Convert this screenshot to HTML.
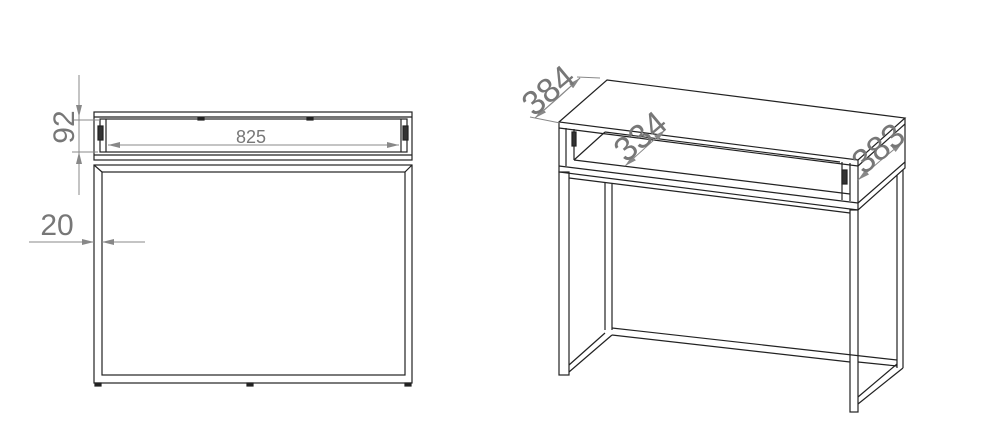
<!DOCTYPE html>
<html><head><meta charset="utf-8"><style>
html,body{margin:0;padding:0;background:#fff;}
svg{display:block;}
text{font-family:"Liberation Sans",sans-serif;fill:#777;}
</style></head><body>
<svg width="985" height="447" viewBox="0 0 985 447" xmlns="http://www.w3.org/2000/svg">
<defs>
<marker id="ar" markerWidth="12" markerHeight="6" refX="12" refY="3" orient="auto" markerUnits="userSpaceOnUse">
<path d="M0,0 L12,3 L0,6 Z" fill="#888"/></marker>
</defs>
<g fill="none" stroke="#222" stroke-width="1.2">
<!-- LEFT VIEW -->
<rect x="94" y="112" width="318" height="48"/>
<line x1="94" y1="117" x2="412" y2="117"/>
<rect x="100" y="119" width="307" height="33"/>
<line x1="106" y1="119" x2="106" y2="152"/>
<line x1="401" y1="119" x2="401" y2="152"/>
<line x1="94" y1="155" x2="412" y2="155"/>
<rect x="94" y="165" width="318" height="218"/>
<rect x="102" y="172" width="303" height="203"/>
<line x1="94" y1="165" x2="102" y2="172"/>
<line x1="412" y1="165" x2="405" y2="172"/>
<rect x="98" y="126" width="5" height="14" fill="#333"/>
<rect x="403" y="126" width="5" height="14" fill="#333"/>
<rect x="198" y="118" width="6" height="2" fill="#222"/>
<rect x="307" y="118" width="6" height="2" fill="#222"/>
<rect x="95" y="383" width="6" height="3" fill="#222"/>
<rect x="247" y="383" width="6" height="3" fill="#222"/>
<rect x="405" y="383" width="6" height="3" fill="#222"/>
<!-- RIGHT VIEW -->
<polygon points="607,80 905,118 858,160 559,122"/>
<polyline points="559,122 559,172 858,210 905,168 905,118"/>
<line x1="858" y1="160" x2="858" y2="210"/>
<line x1="559" y1="128" x2="858" y2="166"/>
<line x1="858" y1="166" x2="905" y2="124"/>
<line x1="559" y1="166" x2="858" y2="203"/>
<line x1="858" y1="203" x2="905" y2="162"/>
<line x1="566" y1="128" x2="566" y2="166"/>
<line x1="574" y1="129" x2="574" y2="160"/>
<line x1="574" y1="160" x2="850" y2="194"/>
<line x1="574" y1="160" x2="605" y2="132"/>
<line x1="605" y1="132" x2="840" y2="162"/>
<line x1="842" y1="162" x2="842" y2="200"/>
<line x1="850" y1="163" x2="850" y2="201"/>
<rect x="572" y="132" width="4" height="14" fill="#333"/>
<rect x="842" y="170" width="5" height="14" fill="#333"/>
<!-- legs -->
<rect x="559" y="172" width="10" height="203"/>
<rect x="850" y="210" width="8" height="202"/>
<line x1="605" y1="183" x2="605" y2="330"/>
<line x1="612" y1="184" x2="612" y2="330"/>
<line x1="897" y1="175" x2="897" y2="368"/>
<line x1="903" y1="170" x2="903" y2="368"/>
<line x1="569" y1="178" x2="850" y2="213"/>
<!-- bottom stretchers -->
<polyline points="569,365 605,333"/>
<polyline points="569,372 612,335"/>
<line x1="612" y1="328" x2="897" y2="360"/>
<line x1="612" y1="335" x2="850" y2="362"/>
<line x1="858" y1="362" x2="897" y2="366"/>
<line x1="858" y1="404" x2="903" y2="368"/>
<line x1="858" y1="397" x2="897" y2="364"/>
</g>
<!-- dimensions -->
<g stroke="#888" stroke-width="1" fill="none">
<line x1="79" y1="75" x2="79" y2="195"/>
<line x1="79" y1="78" x2="79" y2="117" marker-end="url(#ar)"/>
<line x1="79" y1="192" x2="79" y2="152" marker-end="url(#ar)"/>
<line x1="72" y1="120" x2="100" y2="120"/>
<line x1="72" y1="152" x2="98" y2="152"/>
<line x1="250" y1="145" x2="108" y2="145" marker-end="url(#ar)"/>
<line x1="250" y1="145" x2="399" y2="145" marker-end="url(#ar)"/>
<line x1="29" y1="242" x2="94" y2="242" marker-end="url(#ar)"/>
<line x1="145" y1="242" x2="102" y2="242" marker-end="url(#ar)"/>
<line x1="535" y1="118" x2="580" y2="78"/>
<line x1="558" y1="98" x2="535" y2="118" marker-end="url(#ar)"/>
<line x1="558" y1="98" x2="580" y2="78" marker-end="url(#ar)"/>
<line x1="530" y1="117" x2="560" y2="123"/>
<line x1="577" y1="77" x2="600" y2="78"/>
<line x1="645" y1="148" x2="625" y2="166" marker-end="url(#ar)"/>
<line x1="645" y1="148" x2="665" y2="130" marker-end="url(#ar)"/>
<line x1="880" y1="161" x2="858" y2="180" marker-end="url(#ar)"/>
<line x1="880" y1="161" x2="903" y2="142" marker-end="url(#ar)"/>
</g>
<g>
<text x="75" y="136" font-size="30" text-anchor="middle" transform="rotate(-90 66 136)" dominant-baseline="middle">92</text>
<text x="251" y="143" font-size="18" text-anchor="middle">825</text>
<text x="57" y="235" font-size="30" text-anchor="middle">20</text>
<text x="548" y="102" font-size="34" text-anchor="middle" transform="rotate(-40 548 90)">384</text>
<text x="640" y="148" font-size="34" text-anchor="middle" transform="rotate(-40 640 136)">334</text>
<text x="878" y="160" font-size="34" text-anchor="middle" transform="rotate(-40 878 148)">383</text>
</g>
</svg>
</body></html>
